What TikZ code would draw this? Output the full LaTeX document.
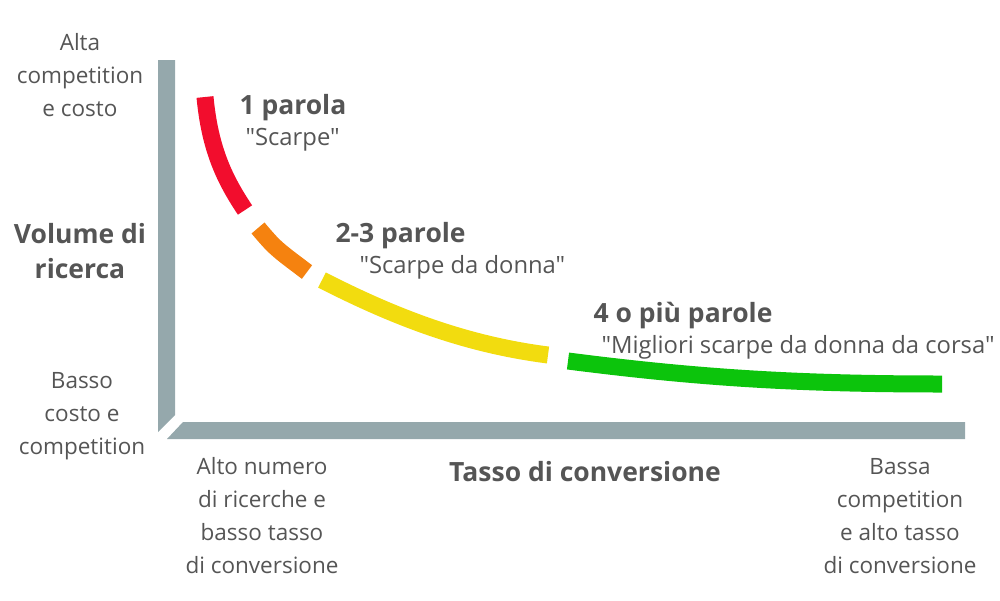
\documentclass[tikz,border=0pt]{standalone}
\usepackage{fontspec}
\setmainfont{Open Sans}[Ligatures=TeXOff]
\usepackage{tikz}

\definecolor{axisgray}{HTML}{95A8AC}
\definecolor{txtgray}{HTML}{555555}
\definecolor{segred}{HTML}{F20D2D}
\definecolor{segorange}{HTML}{F5820F}
\definecolor{segyellow}{HTML}{F2DC0F}
\definecolor{seggreen}{HTML}{0CC40C}

\tikzset{
  note/.style={text=txtgray,align=center,font=\fontsize{22.5}{33}\selectfont},
  title/.style={text=txtgray,align=center,font=\fontsize{26.5}{35}\selectfont\bfseries},
  kw/.style={text=txtgray,anchor=west,font=\fontsize{26.5}{30}\selectfont\bfseries},
  ex/.style={text=txtgray,anchor=west,font=\fontsize{23.8}{26}\selectfont},
  seg/.style={line width=17pt}
}

\begin{document}
\begin{tikzpicture}[x=1pt,y=-1pt]
\useasboundingbox (0,0) rectangle (1000,600);

% axes
\fill[axisgray] (158,60) -- (175,60) -- (175,415) -- (158,432) -- cycle;
\fill[axisgray] (183,422) -- (965,422) -- (965,439) -- (167,439) -- cycle;

% curve
\draw[seg,segred] (205,97) .. controls (210,150) and (225,180) .. (245,210);
\draw[seg,segorange] (258,228) .. controls (275,248) .. (307,272);
\draw[seg,segyellow] (322,280) .. controls (400,320) and (470,345) .. (548,355);
\draw[seg,seggreen] (568,361) .. controls (700,378) and (800,384) .. (942,384);

% axis labels
\node[note] (high) at (80,75) {Alta\\competition\\e costo};
\node[title] (volume) at (80,251) {Volume di\\ricerca};
\node[note] (low) at (82,416) {Basso\\costo e\\competition};
\node[note] (left) at (262,516) {Alto numero\\di ricerche e\\basso tasso\\di conversione};
\node[title] (rate) at (585,472) {Tasso di conversione};
\node[note] (right) at (900,516) {Bassa\\competition\\e alto tasso\\di conversione};

% keyword labels
\node[kw] (one) at (236,108) {1 parola};
\node[ex] (oneex) at (242,140) {"Scarpe"};
\node[kw] (two) at (332,236) {2-3 parole};
\node[ex] (twoex) at (356,267) {"Scarpe da donna"};
\node[kw] (four) at (590,316) {4 o più parole};
\node[ex] (fourex) at (598,347) {"Migliori scarpe da donna da corsa"};
\end{tikzpicture}
\end{document}
